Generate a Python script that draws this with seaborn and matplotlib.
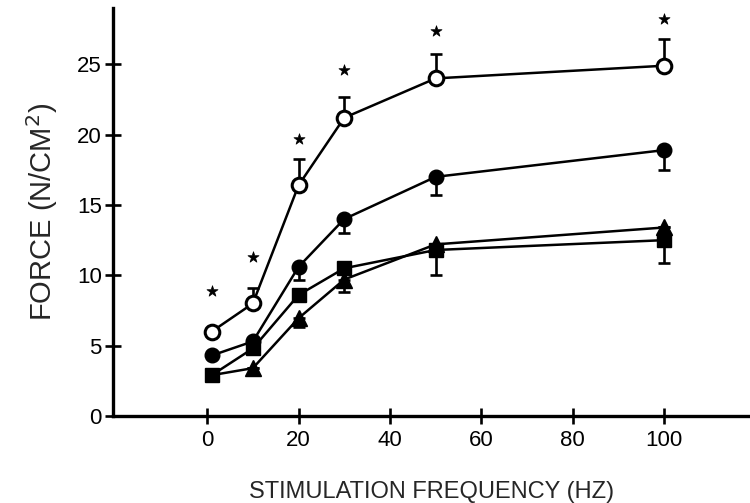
import numpy as np
import pandas as pd
import matplotlib
matplotlib.use("Agg")
import matplotlib.pyplot as plt
import seaborn as sns

# Dados (forca x frequencia de estimulacao)
freq = [1, 10, 20, 30, 50, 100]

forca_aberto = [6.0, 8.0, 16.4, 21.2, 24.0, 24.9]
erro_aberto = [0.0, 1.1, 1.9, 1.5, 1.7, 1.9]          # so para cima

forca_circulo = [4.3, 5.3, 10.6, 14.0, 17.0, 18.9]
erro_circulo = [0.0, 0.0, 0.9, 1.0, 1.3, 1.4]         # so para baixo

forca_quadrado = [2.9, 4.8, 8.6, 10.5, 11.8, 12.5]
erro_quadrado = [0.0, 0.0, 0.0, 0.0, 1.8, 1.6]

forca_triangulo = [2.9, 3.4, 6.95, 9.7, 12.2, 13.4]
erro_triangulo = [0.0, 0.0, 0.6, 0.9, 0.0, 0.0]

asterisco_y = [8.9, 11.3, 19.7, 24.6, 27.4, 28.2]

sns.set_style("ticks")
plt.rcParams['font.family'] = ['Liberation Sans', 'DejaVu Sans']

fig = plt.figure(figsize=(7.5, 5.03), dpi=100)
ax = fig.add_axes([0.1507, 0.173, 0.8493, 0.811])

# Series (ordem de desenho: triangulo, quadrado, circulo, aberto)
# o triangulo em 1 Hz fica escondido atras do quadrado no original
series = [
    ('triangulo', forca_triangulo, erro_triangulo, '^', 11, [1, 2, 3, 4, 5]),
    ('quadrado', forca_quadrado, erro_quadrado, 's', 10, None),
    ('circulo', forca_circulo, erro_circulo, 'o', 10.5, None),
]

for nome, forca, erro, marca, tam, mostra in series:
    ax.errorbar(freq, forca, yerr=[erro, [0] * len(erro)], fmt='none',
                ecolor='black', elinewidth=1.9, capsize=4, capthick=1.9, zorder=2)
    sns.lineplot(x=freq, y=forca, ax=ax, color='black', linewidth=1.8,
                 marker=marca, markersize=tam, markerfacecolor='black',
                 markeredgecolor='black', markeredgewidth=1.0,
                 markevery=mostra, zorder=3)

ax.errorbar(freq, forca_aberto, yerr=[[0] * len(erro_aberto), erro_aberto], fmt='none',
            ecolor='black', elinewidth=1.9, capsize=4, capthick=1.9, zorder=2)
sns.lineplot(x=freq, y=forca_aberto, ax=ax, color='black', linewidth=1.8,
             marker='o', markersize=10.5, markerfacecolor='white',
             markeredgecolor='black', markeredgewidth=2.2, zorder=4)

sns.scatterplot(x=freq, y=asterisco_y, ax=ax, marker='*', s=70,
                color='black', edgecolor='black', linewidth=0.5, zorder=5)

ax.set_xlim(-20.6, 118.8)
ax.set_ylim(0, 29)
ax.set_xticks([0, 20, 40, 60, 80, 100])
ax.set_yticks([0, 5, 10, 15, 20, 25])

sns.despine(ax=ax)
for lado in ['left', 'bottom']:
    ax.spines[lado].set_linewidth(2.4)
    ax.spines[lado].set_color('black')

ax.tick_params(axis='both', direction='inout', length=12, width=1.9,
               colors='black', labelsize=16)
ax.tick_params(axis='y', pad=2)
ax.tick_params(axis='x', pad=4)

ax.set_xlabel('STIMULATION FREQUENCY (HZ)', fontsize=17, labelpad=22)
ax.set_ylabel('FORCE (N/CM$^2$)', fontsize=21, labelpad=12)

fig.savefig('out.png', dpi=100)
